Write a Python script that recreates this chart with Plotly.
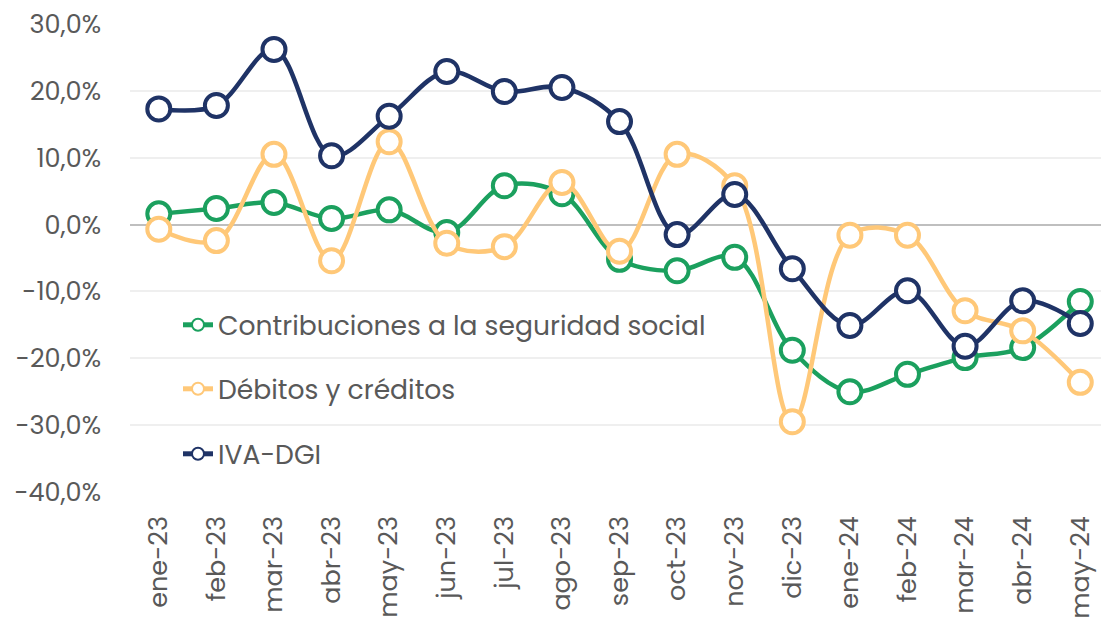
import plotly.graph_objects as go

categories = ["ene-23", "feb-23", "mar-23", "abr-23", "may-23", "jun-23", "jul-23", "ago-23",
              "sep-23", "oct-23", "nov-23", "dic-23", "ene-24", "feb-24", "mar-24", "abr-24", "may-24"]

contribuciones = [1.6, 2.4, 3.3, 0.9, 2.2, -1.2, 5.8, 4.6, -5.2, -6.9, -4.9, -18.8, -25.0, -22.4, -19.9, -18.4, -11.5]
debitos = [-0.7, -2.4, 10.5, -5.4, 12.4, -2.8, -3.3, 6.3, -4.0, 10.5, 5.8, -29.5, -1.6, -1.6, -12.9, -15.9, -23.6]
iva = [17.3, 17.8, 26.2, 10.3, 16.2, 22.9, 19.9, 20.5, 15.4, -1.5, 4.5, -6.6, -15.1, -9.9, -18.2, -11.4, -14.8]

series_names = ["Contribuciones a la seguridad social", "Débitos y créditos", "IVA-DGI"]
series_values = [contribuciones, debitos, iva]
colors = ["#1BA05E", "#FFC878", "#1F3366"]
legend_ids = ["legend", "legend2", "legend3"]

y_ticks = [30, 20, 10, 0, -10, -20, -30, -40]
y_tick_labels = ["30,0%", "20,0%", "10,0%", "0,0%", "-10,0%", "-20,0%", "-30,0%", "-40,0%"]

FONT = "Poppins, Inter, sans-serif"
TEXT = "#595959"
TICK_SIZE = 25.5

fig = go.Figure()
for name, vals, col, lg in zip(series_names, series_values, colors, legend_ids):
    fig.add_trace(go.Scatter(
        x=categories, y=vals, name=name, mode="lines+markers",
        line=dict(color=col, width=4.5, shape="spline", smoothing=1.0),
        marker=dict(size=23, color="white", line=dict(color=col, width=4)),
        legend=lg,
    ))

W, H = 1101, 619
left, top, bottom_px = 130, 24, 492
plot_h = bottom_px - top
plot_w = W - left

legend_common = dict(
    font=dict(family=FONT, size=26.6, color=TEXT),
    bgcolor="rgba(0,0,0,0)", xanchor="left", yanchor="middle",
    itemsizing="constant",
)

def ly(py):
    return (bottom_px - py) / plot_h

lx = (178 - left) / plot_w

fig.update_layout(
    width=W, height=H,
    margin=dict(l=left, r=0, t=top, b=H - bottom_px),
    paper_bgcolor="white", plot_bgcolor="white",
    font=dict(family=FONT, size=TICK_SIZE, color=TEXT),
    showlegend=True,
    legend=dict(x=lx, y=ly(325), **legend_common),
    legend2=dict(x=lx, y=ly(389), **legend_common),
    legend3=dict(x=lx, y=ly(454), **legend_common),
    xaxis=dict(
        type="category", range=[-0.5, 16.36], tickangle=-90,
        showgrid=False, zeroline=False, showline=False, ticks="",
        ticklabelstandoff=18,
        tickfont=dict(family=FONT, size=TICK_SIZE, color=TEXT),
    ),
    yaxis=dict(
        range=[-40, 30], tickvals=y_ticks, ticktext=y_tick_labels,
        showgrid=True, gridcolor="#EFEFEF", gridwidth=1.5,
        zeroline=True, zerolinecolor="#BFBFBF", zerolinewidth=1.5,
        ticks="", ticklen=0, ticklabelstandoff=28,
        tickfont=dict(family=FONT, size=TICK_SIZE, color=TEXT),
    ),
)

fig.write_html("out.html")
